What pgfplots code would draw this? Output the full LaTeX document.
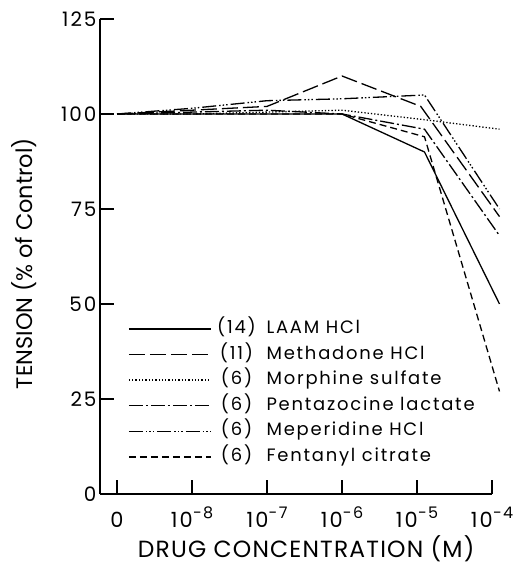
\documentclass[border=0pt]{standalone}
\usepackage{fontspec}
\setmainfont{Poppins}
\newfontfamily\tickfont[LetterSpace=10]{Poppins}
\newfontfamily\legfont[LetterSpace=10]{Poppins}
\newfontfamily\labfont[LetterSpace=5]{Poppins}
\usepackage{pgfplots}
\pgfplotsset{compat=1.18}
\newcommand{\ex}[1]{10\raisebox{0.42em}{\fontsize{16}{16}\selectfont #1}}
\begin{document}
\begin{tikzpicture}
\useasboundingbox (-100bp,-73bp) rectangle (431bp,494bp);
\begin{axis}[
  at={(0,0)}, anchor=south west,
  scale only axis, width=392bp, height=475bp,
  xmin=-0.227, xmax=5, ymin=0, ymax=125,
  axis x line*=bottom, axis y line*=left,
  axis line style={line width=1.6bp, -},
  xtick={0,1,2,3,4,5},
  xticklabels={0,\ex{−8},\ex{−7},\ex{−6},\ex{−5},\ex{−4}},
  ytick={0,25,50,75,100,125},
  tick align=inside, major tick length=14bp,
  tick style={line width=1.6bp, black},
  /pgf/number format/assume math mode=true,
  xticklabel style={font=\tickfont\fontsize{21}{24}\selectfont, anchor=base, yshift=-33bp},
  yticklabel style={font=\tickfont\fontsize{20}{24}\selectfont},
  xlabel={DRUG CONCENTRATION (M)},
  ylabel={TENSION (\% of Control)},
  every axis x label/.style={at={(axis description cs:0.526,-0.116)}, anchor=center, font=\labfont\fontsize{23.5}{28}\selectfont},
  every axis y label/.style={at={(axis description cs:-0.194,0.485)}, anchor=center, rotate=90, font=\fontsize{22.5}{26}\selectfont},
  clip=false,
  every axis plot/.append style={line width=1.3bp, black},
  legend image code/.code={\draw[#1] (0bp,0bp) -- (82bp,0bp);},
  legend cell align=left,
  legend style={at={(axis cs:0.147,26.6)}, anchor=west, draw=none, fill=none,
    inner sep=0pt, row sep=8.6bp, column sep=8bp,
    font=\legfont\fontsize{18}{20}\selectfont,
    nodes={inner sep=0pt, text height=13bp, text depth=4bp}},
]
\addplot[solid] coordinates {(0,100) (1,100) (2,100) (3,100) (4.1,90) (5.1,50)};
\addlegendentry{\makebox[34bp][c]{(14)}\hspace{13bp}LAAM HCl}
\addplot[dash pattern=on 16bp off 5bp] coordinates {(0,100) (1,101) (2,102) (3,110) (4.05,102) (5.1,73)};
\addlegendentry{\makebox[34bp][c]{(11)}\hspace{13bp}Methadone HCl}
\addplot[dash pattern=on 1.3bp off 2bp] coordinates {(0,100) (1,100) (2,100.5) (3,101) (4.1,98.5) (5.1,96)};
\addlegendentry{\makebox[34bp][c]{(6)}\hspace{13bp}Morphine sulfate}
\addplot[dash pattern=on 14bp off 3bp on 2bp off 3bp] coordinates {(0,100) (1,100.5) (2,101) (3,100) (4.1,96) (5.1,68)};
\addlegendentry{\makebox[34bp][c]{(6)}\hspace{13bp}Pentazocine lactate}
\addplot[dash pattern=on 14bp off 3bp on 1.5bp off 2bp on 1.5bp off 2bp on 1.5bp off 3bp] coordinates {(0,100) (1,101.5) (2,103.5) (3,104) (4.1,105) (5.1,75)};
\addlegendentry{\makebox[34bp][c]{(6)}\hspace{13bp}Meperidine HCl}
\addplot[dash pattern=on 7bp off 4bp] coordinates {(0,100) (1,100) (2,100) (3,100) (4.1,94) (5.1,27)};
\addlegendentry{\makebox[34bp][c]{(6)}\hspace{13bp}Fentanyl citrate}
\end{axis}
\end{tikzpicture}
\end{document}
